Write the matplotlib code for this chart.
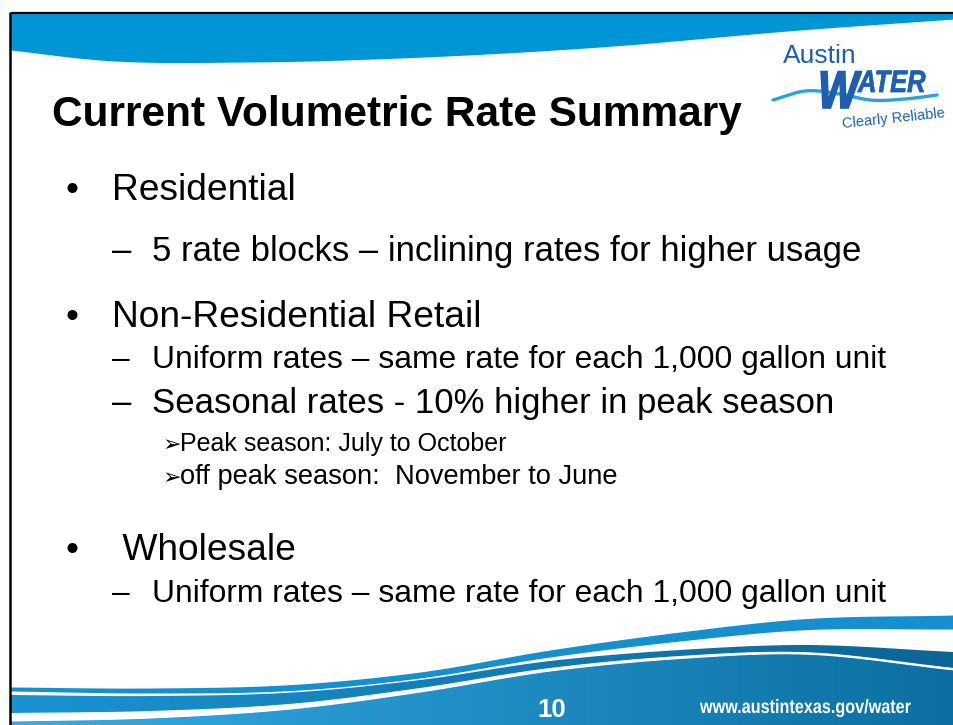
import numpy as np
import matplotlib
matplotlib.use('Agg')
import matplotlib.pyplot as plt
from matplotlib.patches import Polygon, PathPatch
from matplotlib.colors import LinearSegmentedColormap
from matplotlib.textpath import TextPath
from matplotlib.font_manager import FontProperties
from matplotlib.transforms import Affine2D

# slide text
title = "Current Volumetric Rate Summary"
item_levels = [1, 2, 1, 2, 2, 3, 3, 1, 2]
item_texts = [
    "Residential",
    "5 rate blocks \u2013 inclining rates for higher usage",
    "Non-Residential Retail",
    "Uniform rates \u2013 same rate for each 1,000 gallon unit",
    "Seasonal rates - 10% higher in peak season",
    "Peak season: July to October",
    "off peak season:  November to June",
    " Wholesale",
    "Uniform rates \u2013 same rate for each 1,000 gallon unit",
]
page_number = "10"
footer_url = "www.austintexas.gov/water"
logo_top = "Austin"
logo_tag = "Clearly Reliable"

# layout (pixels, y down)
W, H = 954, 725
item_baselines = [200, 261, 327, 368, 413, 451, 484, 560, 602]
item_sizes = [26.7, 25.0, 26.7, 22.9, 25.0, 18.0, 19.6, 26.7, 22.9]
level_marker = {1: "\u2022", 2: "\u2013", 3: "\u27a2"}
level_marker_x = {1: 66, 2: 112, 3: 163}
level_text_x = {1: 112, 2: 152, 3: 180}

FONT = ['Liberation Sans', 'DejaVu Sans']
LOGO_BLUE = '#1f5fab'


def smooth(xs, ys, x):
    # cubic hermite through a few control points
    xs = np.asarray(xs, float)
    ys = np.asarray(ys, float)
    m = np.gradient(ys, xs)
    i = np.clip(np.searchsorted(xs, x) - 1, 0, len(xs) - 2)
    h = xs[i + 1] - xs[i]
    t = (x - xs[i]) / h
    h00 = 2 * t**3 - 3 * t**2 + 1
    h10 = t**3 - 2 * t**2 + t
    h01 = -2 * t**3 + 3 * t**2
    h11 = t**3 - t**2
    return h00 * ys[i] + h10 * h * m[i] + h01 * ys[i + 1] + h11 * h * m[i + 1]


def grad_fill(ax, x, ytop, ybot, c0, c1, z):
    verts = np.concatenate([np.column_stack([x, ytop]),
                            np.column_stack([x[::-1], ybot[::-1]])])
    poly = Polygon(verts, closed=True, facecolor='none', edgecolor='none')
    ax.add_patch(poly)
    cmap = LinearSegmentedColormap.from_list('g', [c0, c1])
    g = np.linspace(0, 1, 256).reshape(1, -1)
    ax.imshow(g, extent=[x.min(), x.max(), ybot.max(), ytop.min()],
              aspect='auto', cmap=cmap, clip_path=poly, zorder=z,
              interpolation='bilinear')


def path_text(ax, s, x0, yb, sx, sy, prop, color, z, ec='none', lw=0):
    # text drawn as a path so it can be squeezed / stretched
    p = TextPath((0, 0), s, size=1, prop=prop)
    tr = Affine2D().scale(sx, -sy).translate(x0, yb) + ax.transData
    ax.add_patch(PathPatch(p, transform=tr, facecolor=color, edgecolor=ec,
                           lw=lw, zorder=z))


fig = plt.figure(figsize=(W / 100, H / 100), dpi=100)
ax = fig.add_axes([0, 0, 1, 1])

x = np.linspace(11, W, 700)

# top banner
kx = [11, 100, 250, 400, 600, 800, 954]
banner_bot = smooth(kx, [50, 60, 62, 58, 47, 30, 19], x)
ax.fill_between(x, 13, banner_bot, color='#0096d6', lw=0, zorder=1)

# bottom waves
wx = [11, 150, 300, 420, 550, 680, 800, 954]
t1 = smooth(wx, [687, 688, 684, 672, 650, 632, 619, 615], x)
b1 = t1 + smooth(wx, [4, 5, 6, 6, 7, 9, 11, 14], x)
ax.fill_between(x, t1, b1, color='#168fcf', lw=0, zorder=2)

t2 = smooth(wx, [695, 696, 692, 680, 661, 650, 645, 652], x)
wl = smooth(wx, [713, 711, 703, 688, 668, 656, 652, 668], x)
ww = smooth(wx, [8, 7, 5, 4, 3, 2.5, 2, 2], x)
bottom = np.full_like(x, H + 2)
grad_fill(ax, x, t2, wl, '#1b93d2', '#0a6696', 2)
ax.fill_between(x, wl, wl + ww, color='white', lw=0, zorder=3)
grad_fill(ax, x, wl + ww, bottom, '#34ade6', '#0c6fa1', 2)

# frame
ax.plot([11, W], [12.5, 12.5], color='black', lw=1.6, zorder=5,
        solid_capstyle='butt')
ax.plot([10.5, 10.5], [12, H], color='black', lw=1.8, zorder=5,
        solid_capstyle='butt')

# logo
ax.text(783, 63, logo_top, fontsize=19, color=LOGO_BLUE, family=FONT,
        va='baseline', zorder=6)
lx = np.linspace(773, 937, 200)
ax.plot(lx, smooth([773, 805, 840, 870, 905, 937],
                   [100, 91, 94, 100, 99, 95], lx),
        color='#2ba3dc', lw=2.4, zorder=6, solid_capstyle='round')
bi = FontProperties(family='Liberation Sans', weight='bold', style='italic')
path_text(ax, 'W', 818, 108, 43, 53, bi, LOGO_BLUE, 7, ec=LOGO_BLUE, lw=1.2)
path_text(ax, 'ATER', 858, 92, 25.5, 31, bi, LOGO_BLUE, 7, ec=LOGO_BLUE, lw=0.6)
ax.text(843, 128, logo_tag, fontsize=10.5, color=LOGO_BLUE, family=FONT,
        rotation=6, rotation_mode='anchor', va='baseline', zorder=6)

# title
ax.text(52, 126, title, fontsize=30.5, weight='bold', family=FONT,
        va='baseline', zorder=6)

# bullets
for lvl, txt, yb, fs in zip(item_levels, item_texts, item_baselines, item_sizes):
    mk_font = ['DejaVu Sans'] if lvl == 3 else FONT
    mk_size = 16 if lvl == 3 else fs
    ax.text(level_marker_x[lvl], yb, level_marker[lvl], fontsize=mk_size,
            family=mk_font, va='baseline', zorder=6)
    ax.text(level_text_x[lvl], yb, txt, fontsize=fs,
            family=FONT, va='baseline', zorder=6)

# footer
ax.text(552, 717, page_number, fontsize=18.5, weight='bold', color='white',
        family=FONT, ha='center', va='baseline', zorder=6)
bold = FontProperties(family='Liberation Sans', weight='bold')
path_text(ax, footer_url, 700, 713, 16.2, 19.5, bold, 'white', 6)

ax.set_xlim(0, W)
ax.set_ylim(H, 0)
ax.axis('off')
fig.savefig('out.png', dpi=100, facecolor='white')
